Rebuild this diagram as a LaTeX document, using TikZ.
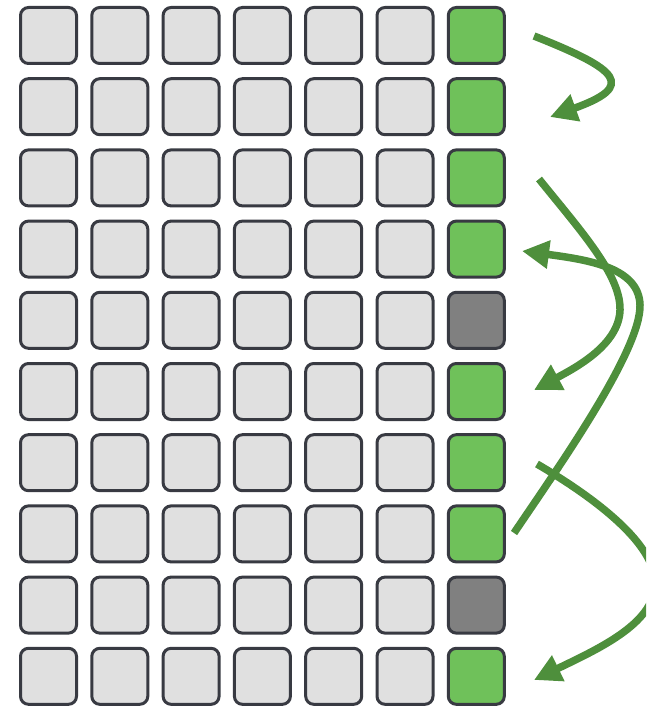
\documentclass[tikz,border=0pt]{standalone}
\usetikzlibrary{arrows.meta}
\definecolor{cellfill}{HTML}{E0E0E0}
\definecolor{cellborder}{HTML}{383A42}
\definecolor{greenfill}{HTML}{6FC15A}
\definecolor{grayfill}{HTML}{808080}
\definecolor{arrowgreen}{HTML}{4E8F3C}
\begin{document}
\begin{tikzpicture}[x=1pt,y=-1pt,
  cell/.style={draw=cellborder,line width=3pt,fill=cellfill,rounded corners=8pt,minimum size=56pt,inner sep=0pt},
  greencell/.style={cell,fill=greenfill},
  graycell/.style={cell,fill=grayfill},
  flow/.style={draw=arrowgreen,line width=7.5pt,-{Triangle[length=27pt,width=27pt]}}]
\useasboundingbox (0,0) rectangle (646,706);
\begin{scope}
\clip (0,0) rectangle (646,706);
\foreach \j in {0,...,9}{
  \foreach \i in {0,...,5}{
    \node[cell] (c-\i-\j) at ({48.5+\i*71.3},{35.5+\j*71.2}) {};
  }
}
\foreach \j in {0,1,2,3,5,6,7,9}{
  \node[greencell] (c-6-\j) at ({48.5+6*71.3},{35.5+\j*71.2}) {};
}
\foreach \j in {4,8}{
  \node[graycell] (c-6-\j) at ({48.5+6*71.3},{35.5+\j*71.2}) {};
}
\coordinate (a1s) at (534,36);
\coordinate (a1e) at (550,117);
\coordinate (a2s) at (539,179);
\coordinate (a2e) at (534,390);
\coordinate (a3s) at (514,533);
\coordinate (a3e) at (522,251);
\coordinate (a4s) at (537,464);
\coordinate (a4e) at (534,680);
\draw[flow] (a1s) .. controls (620,70) and (636,86) .. (a1e);
\draw[flow] (a2s) .. controls (580,230) and (621,275) .. (620,310) .. controls (619,345) and (575,368) .. (a2e);
\draw[flow] (a3s) .. controls (560,465) and (641,350) .. (640,305) .. controls (639,268) and (590,260) .. (a3e);
\draw[flow] (a4s) .. controls (590,495) and (652,540) .. (655,580) .. controls (658,622) and (600,648) .. (a4e);
\end{scope}
\end{tikzpicture}
\end{document}
